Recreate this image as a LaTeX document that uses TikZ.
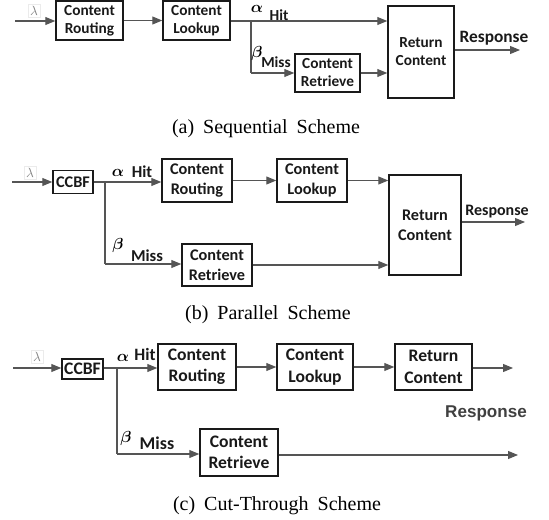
\documentclass[tikz,border=0pt]{standalone}
\usepackage{fontspec}
\usepackage{bm}
\setmainfont{Liberation Serif}
\setsansfont{Carlito}
\newfontfamily\arialfont{Liberation Sans}
\usetikzlibrary{arrows.meta}
\definecolor{linegray}{HTML}{555555}
\definecolor{boxdark}{HTML}{1A1A1A}
\newdimen\pxu \pxu=0.75pt
\newcommand{\wsp}{\hspace{0.45em}}
\begin{document}
\begin{tikzpicture}[x=0.75pt,y=-0.75pt,
  blk/.style={draw=boxdark,line width=1.1pt,rectangle,inner sep=0pt,align=center,
    font=\sffamily\bfseries\fontsize{11.5}{13.5}\selectfont,text=black!90},
  blkb/.style={blk,font=\sffamily\bfseries\fontsize{12.2}{15}\selectfont},
  blkc/.style={blk,font=\sffamily\bfseries\fontsize{13.2}{16}\selectfont},
  conn/.style={draw=linegray,line width=0.8pt},
  arr/.style={conn,-{Triangle[length=7.5pt,width=6pt]}},
  lbl/.style={inner sep=0pt,font=\sffamily\bfseries\fontsize{11.5}{13}\selectfont,text=black!90},
  gk/.style={inner sep=0pt,font=\fontsize{12}{14}\selectfont},
  lam/.style={inner sep=1.5pt,draw=black!8,text=black!50,font=\fontsize{10}{12}\selectfont},
  captxt/.style={inner sep=0pt,font=\fontsize{15}{17}\selectfont}]
\useasboundingbox (0,0) rectangle (549,520);

% ---------- (a) Sequential ----------
\node[lam] (lam1) at (34,11) {$\lambda$};
\coordinate (in1) at (15,21);
\node[blk,minimum width=67\pxu,minimum height=39\pxu] (r1) at (89.5,20.5) {Content\\Routing};
\node[blk,minimum width=67\pxu,minimum height=39\pxu] (l1) at (196.5,20.5) {Content\\Lookup};
\node[blk,minimum width=65\pxu,minimum height=38\pxu] (rt1) at (327.5,73) {Content\\Retrieve};
\node[blk,minimum width=66\pxu,minimum height=92\pxu] (rc1) at (421,52) {Return\\Content};
\coordinate (s1) at (251,21);
\coordinate (m1) at (251,73);
\coordinate (o1) at (520,50);
\draw[arr] (in1) -- (r1.west |- in1);
\draw[arr] (r1) -- (l1);
\draw[conn] (l1.east |- s1) -- (s1);
\draw[arr] (s1) -- (s1 -| rc1.west);
\draw[conn] (s1) -- (m1);
\draw[arr] (m1) -- (rt1.west |- m1);
\draw[arr] (rt1.east) -- (rt1.east -| rc1.west);
\draw[arr] (rc1.east |- o1) -- (o1);
\node[gk] (al1) at (257,9) {$\bm{\alpha}$};
\node[lbl] (hit1) at (279,15) {Hit};
\node[gk] (be1) at (257,54) {$\bm{\beta}$};
\node[lbl] (miss1) at (276,62) {Miss};
\node[inner sep=0pt,font=\sffamily\bfseries\fontsize{13}{15}\selectfont,text=black!90] (resp1) at (494,38) {Response};
\node[captxt] (capa) at (266,129) {(a)\wsp Sequential\wsp Scheme};

% ---------- (b) Parallel ----------
\node[lam] (lam2) at (30,173) {$\lambda$};
\coordinate (in2) at (12,182);
\node[blkb,minimum width=40\pxu,minimum height=23\pxu] (cc2) at (73,182) {CCBF};
\node[blkb,minimum width=70\pxu,minimum height=43\pxu] (r2) at (197,180.5) {Content\\Routing};
\node[blkb,minimum width=70\pxu,minimum height=43\pxu] (l2) at (312,180.5) {Content\\Lookup};
\node[blkb,minimum width=72\pxu,minimum height=100\pxu] (rc2) at (425,225) {Return\\Content};
\node[blkb,minimum width=70\pxu,minimum height=42\pxu] (rt2) at (217,265) {Content\\Retrieve};
\coordinate (s2) at (105,182);
\coordinate (m2) at (105,264);
\coordinate (o2) at (525,222);
\draw[arr] (in2) -- (cc2.west |- in2);
\draw[conn] (cc2.east |- s2) -- (s2);
\draw[arr] (s2) -- (s2 -| r2.west);
\draw[arr] (r2) -- (l2);
\draw[arr] (l2.east) -- (l2.east -| rc2.west);
\draw[conn] (s2) -- (m2);
\draw[arr] (m2) -- (m2 -| rt2.west);
\draw[arr] (rt2.east |- 0,265) -- (rc2.west |- 0,265);
\draw[arr] (rc2.east |- o2) -- (o2);
\node[gk] (al2) at (118,173) {$\bm{\alpha}$};
\node[lbl,font=\sffamily\bfseries\fontsize{12.5}{14}\selectfont] (hit2) at (142,172) {Hit};
\node[gk] (be2) at (118,245) {$\bm{\beta}$};
\node[lbl,font=\sffamily\bfseries\fontsize{12.5}{14}\selectfont] (miss2) at (147,256) {Miss};
\node[inner sep=0pt,font=\sffamily\bfseries\fontsize{12}{14}\selectfont,text=black!90] (resp2) at (497,212) {Response};
\node[captxt] (capb) at (268,315) {(b)\wsp Parallel\wsp Scheme};

% ---------- (c) Cut-Through ----------
\node[lam] (lam3) at (37,357) {$\lambda$};
\coordinate (in3) at (13,368);
\node[blkc,minimum width=41\pxu,minimum height=20\pxu] (cc3) at (82.5,369) {CCBF};
\node[blkc,minimum width=78\pxu,minimum height=46\pxu] (r3) at (197,367) {Content\\Routing};
\node[blkc,minimum width=76\pxu,minimum height=46\pxu] (l3) at (315,367) {Content\\Lookup};
\node[blkc,minimum width=77\pxu,minimum height=46\pxu] (rc3) at (433.5,367) {Return\\Content};
\node[blkc,minimum width=78\pxu,minimum height=47\pxu] (rt3) at (239,452.5) {Content\\Retrieve};
\coordinate (s3) at (117,368);
\coordinate (m3) at (117,454);
\coordinate (o3) at (513,368);
\coordinate (o4) at (518,455);
\draw[arr] (in3) -- (cc3.west |- in3);
\draw[conn] (cc3.east |- s3) -- (s3);
\draw[arr] (s3) -- (s3 -| r3.west);
\draw[arr] (r3) -- (l3);
\draw[arr] (l3) -- (rc3);
\draw[arr] (rc3.east |- o3) -- (o3);
\draw[conn] (s3) -- (m3);
\draw[arr] (m3) -- (m3 -| rt3.west);
\draw[arr] (rt3.east |- o4) -- (o4);
\node[gk,font=\fontsize{13}{15}\selectfont] (al3) at (123,358) {$\bm{\alpha}$};
\node[lbl,font=\sffamily\bfseries\fontsize{13}{15}\selectfont] (hit3) at (145,354) {Hit};
\node[gk,font=\fontsize{13}{15}\selectfont] (be3) at (126,438) {$\bm{\beta}$};
\node[lbl,font=\sffamily\bfseries\fontsize{13.5}{15}\selectfont] (miss3) at (157,443) {Miss};
\node[inner sep=0pt,font=\arialfont\bfseries\fontsize{12.8}{15}\selectfont,text=black!75] (resp3) at (486,413) {Response};
\node[captxt] (capc) at (277,506) {(c)\wsp Cut-Through\wsp Scheme};
\end{tikzpicture}
\end{document}
